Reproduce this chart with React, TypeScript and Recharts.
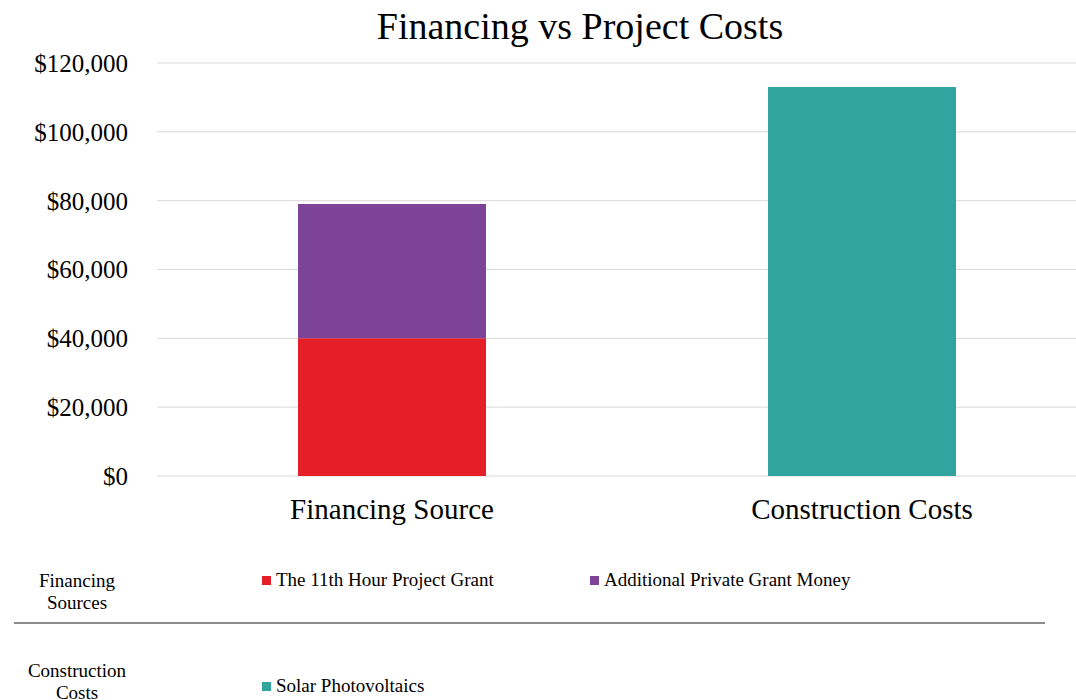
import { Bar, BarChart, CartesianGrid, XAxis, YAxis } from "recharts";

const categories = ["Financing Source", "Construction Costs"];
const grant11th = [40000, 0];
const privateGrant = [39000, 0];
const solarPV = [0, 113000];
const yTicks = [0, 20000, 40000, 60000, 80000, 100000, 120000];

const series = [
  { key: "grant", name: "The 11th Hour Project Grant", color: "#e61e27", group: "Financing Sources", stack: "a" },
  { key: "priv", name: "Additional Private Grant Money", color: "#7d4396", group: "Financing Sources", stack: "a" },
  { key: "solar", name: "Solar Photovoltaics", color: "#32a49f", group: "Construction Costs", stack: "a" },
];

const data = categories.map((label, i) => ({
  label,
  grant: grant11th[i],
  priv: privateGrant[i],
  solar: solarPV[i],
}));

const font = "'Liberation Serif', 'Times New Roman', serif";
const fmtMoney = (v: number) => "$" + v.toLocaleString("en-US");

function LegendRow({ group, top, itemTop }: { group: string; top: number; itemTop: number }) {
  const items = series.filter((s) => s.group === group);
  const [a, b] = group.split(" ");
  return (
    <>
      <div style={{ position: "absolute", left: 17, top, width: 120, textAlign: "center", fontSize: 19, lineHeight: "22px" }}>
        {a}
        <br />
        {b}
      </div>
      {items.map((s, i) => (
        <div key={s.key} style={{ position: "absolute", left: 262 + i * 328, top: itemTop, fontSize: 19, display: "flex", alignItems: "center", whiteSpace: "nowrap" }}>
          <span style={{ display: "inline-block", width: 9, height: 9, background: s.color, marginRight: 5 }} />
          {s.name}
        </div>
      ))}
    </>
  );
}

export default function App() {
  return (
    <div style={{ position: "absolute", left: 0, top: 0, width: 1076, height: 700, overflow: "hidden", background: "#fff", fontFamily: font, color: "#000" }}>
      <div style={{ position: "absolute", left: 0, top: 4, width: 1160, textAlign: "center", fontSize: 38 }}>
        Financing vs Project Costs
      </div>
      <BarChart width={1100} height={540} data={data} margin={{ top: 63, right: 3, bottom: 0, left: 0 }}>
        <CartesianGrid stroke="#d9d9d9" strokeWidth={1} vertical={false} />
        <XAxis
          dataKey="label"
          axisLine={false}
          tickLine={false}
          tickSize={0}
          tickMargin={22}
          height={64}
          tick={{ fill: "#000", fontSize: 29, fontFamily: font }}
        />
        <YAxis
          domain={[0, 120000]}
          ticks={yTicks}
          interval={0}
          width={157}
          axisLine={false}
          tickLine={false}
          tickSize={0}
          tickMargin={29}
          tickFormatter={(v) => fmtMoney(Number(v))}
          tick={{ fill: "#000", fontSize: 25, fontFamily: font }}
        />
        {series.map((s) => (
          <Bar key={s.key} dataKey={s.key} name={s.name} stackId={s.stack} fill={s.color} barSize={188} isAnimationActive={false} />
        ))}
      </BarChart>
      <LegendRow group="Financing Sources" top={570} itemTop={569} />
      <div style={{ position: "absolute", left: 14, top: 622, width: 1031, height: 2, background: "#8c8c8c" }} />
      <LegendRow group="Construction Costs" top={660} itemTop={675} />
    </div>
  );
}
